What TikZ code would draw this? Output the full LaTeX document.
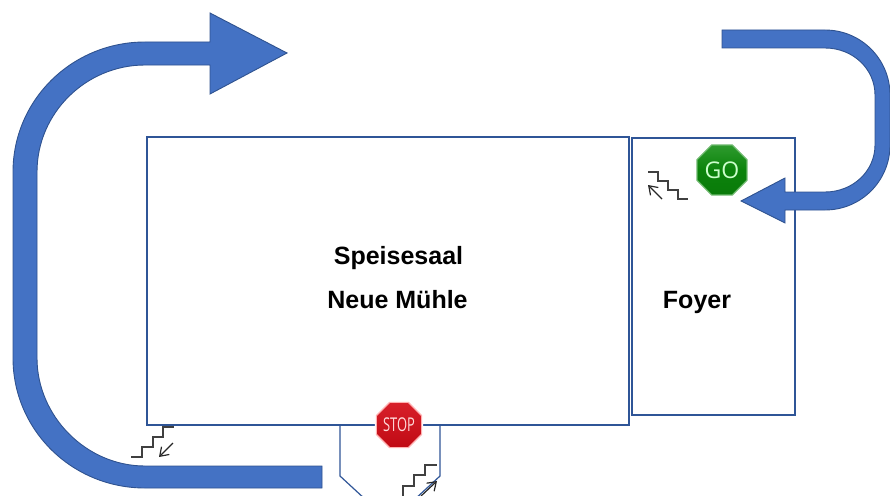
\documentclass[tikz,border=0pt]{standalone}
\usepackage{fontspec}
\setmainfont{Liberation Sans}
\newfontfamily\signfont{Open Sans}
\usetikzlibrary{shapes.geometric,arrows.meta}
\definecolor{arrowfill}{HTML}{4472C4}
\definecolor{arrowline}{HTML}{2F528F}
\definecolor{roomline}{HTML}{2F5597}
\definecolor{gotop}{HTML}{2E9A2E}
\definecolor{gobot}{HTML}{0A7A0A}
\definecolor{gomid}{HTML}{0B830B}
\definecolor{stoptop}{HTML}{D8202A}
\definecolor{stopbot}{HTML}{C00A14}
\tikzset{
  flowarrow/.style={fill=arrowfill,draw=arrowline,line width=0.9pt},
  room/.style={draw=roomline,line width=1.2pt},
  stairline/.style={draw=black!75,line width=1.1pt},
  stairarrow/.style={draw=black!85,line width=1.2pt,-{Straight Barb[length=8pt,width=11pt]}},
  roomlabel/.style={font=\fontsize{25}{30}\selectfont\bfseries,text=black,inner sep=0pt,anchor=base},
  sign/.style={regular polygon,regular polygon sides=8,inner sep=0pt,line width=1.2pt},
}
\begin{document}
\begin{tikzpicture}[x=1pt,y=-1pt]
\useasboundingbox (0,0) rectangle (890,495);
\clip (0,0) rectangle (890,495);
% rooms
\draw[room] (147,137) rectangle (629,425);
\draw[room] (632,138) rectangle (795,415);
\draw[room] (340,425) -- (340,476) -- (366,500);
\draw[room] (440,425) -- (440,476) -- (414,500);
% left arrow
\draw[flowarrow] (322,466) -- (145,466)
  .. controls (86,466) and (37,416) .. (37,358)
  -- (37,172)
  .. controls (37,113) and (86,65) .. (145,65)
  -- (210,65) -- (210,94) -- (287,53) -- (210,13) -- (210,42) -- (145,42)
  .. controls (72,42) and (13,100) .. (13,172)
  -- (13,358)
  .. controls (13,430) and (72,488) .. (145,488)
  -- (322,488) -- cycle;
% right arrow
\draw[flowarrow] (722,30) -- (825,30)
  .. controls (861,30) and (890,59) .. (890,95)
  -- (890,145)
  .. controls (890,181) and (861,210) .. (825,210)
  -- (785,210) -- (785,223) -- (741,201) -- (785,178) -- (785,192) -- (825,192)
  .. controls (853,192) and (875,171) .. (875,145)
  -- (875,95)
  .. controls (875,69) and (853,48) .. (825,48)
  -- (722,48) -- cycle;
% stairs foyer
\draw[stairline] (648,172) -- (658,172) -- (658,181) -- (668,181) -- (668,190) -- (678,190) -- (678,199) -- (688,199);
\coordinate (fa) at (662,199); \coordinate (fb) at (648,185);
\draw[stairarrow] (fa) -- (fb);
% stairs lower left
\draw[stairline] (131,457) -- (142,457) -- (142,447) -- (153,447) -- (153,437) -- (163,437) -- (163,427) -- (174,427);
\coordinate (la) at (173,443); \coordinate (lb) at (159,457);
\draw[stairarrow] (la) -- (lb);
% stairs alcove
\draw[stairline] (403,496) -- (403,486) -- (414,486) -- (414,475) -- (425,475) -- (425,465) -- (437,465);
\coordinate (aa) at (421,496); \coordinate (ab) at (437,481);
\draw[stairarrow] (aa) -- (ab);
% signs
\node[sign,minimum size=57pt,fill=white] (gohalo) at (722,170) {};
\node[sign,minimum size=54pt,draw=gotop!70!white,top color=gotop,bottom color=gobot,middle color=gomid] (go) at (722,170)
  {\signfont\fontsize{23}{23}\selectfont\color{white!80!green}GO};
\node[sign,minimum size=52pt,fill=white] (stophalo) at (399,425) {};
\node[sign,minimum size=49pt,draw=red!30,top color=stoptop,bottom color=stopbot] (stop) at (399,425)
  {\scalebox{0.68}[1]{\signfont\fontsize{19}{19}\selectfont\color{red!15}STOP}};
% labels
\node[roomlabel] (speise) at (398.5,264.5) {Speisesaal};
\node[roomlabel] (neue) at (397.5,308) {Neue Mühle};
\node[roomlabel] (foyer) at (697,308) {Foyer};
\end{tikzpicture}
\end{document}
